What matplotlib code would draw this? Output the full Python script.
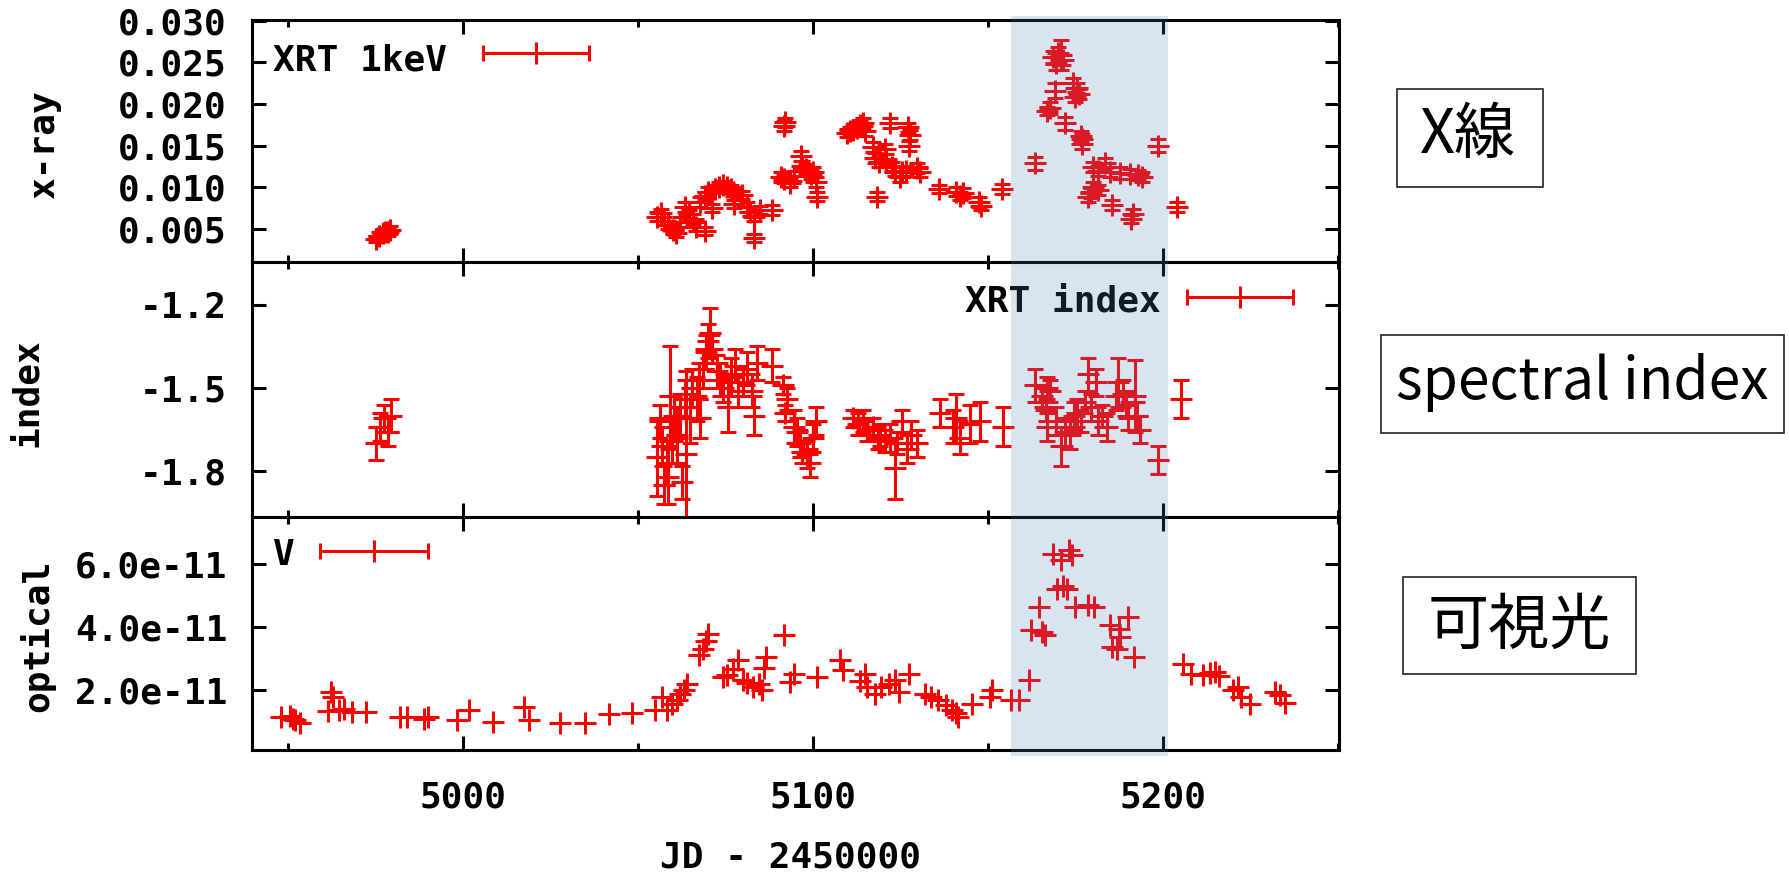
import matplotlib
matplotlib.use("Agg")
import matplotlib.pyplot as plt
from matplotlib.patches import Rectangle
import matplotlib.transforms as mtransforms
from matplotlib.ticker import FixedLocator, FuncFormatter

# ---------------- data ----------------
xray_day = [4975.0, 4976.0, 4977.0, 4977.8, 4978.5, 4979.0,
            5055.5, 5056.5, 5057.5, 5058.5, 5060.0, 5060.8, 5062.0, 5063.4, 5064.5, 5065.8,
            5066.5, 5069.1, 5067.7, 5069.0, 5070.1, 5071.0, 5072.0, 5073.2, 5074.4, 5075.5,
            5076.5, 5077.2, 5077.5, 5079.6, 5081.0, 5082.0, 5083.0, 5083.2, 5084.8, 5088.2,
            5091.8, 5092.0, 5090.8, 5091.8, 5093.4, 5094.5, 5096.5, 5097.0, 5098.0, 5099.5,
            5100.1, 5101.0, 5101.2, 5109.6, 5110.5, 5111.5, 5112.5, 5113.5, 5114.4, 5115.0,
            5117.2, 5117.8, 5118.2, 5119.0, 5120.6, 5121.0, 5122.0, 5122.5, 5123.5, 5124.8,
            5125.5, 5126.5, 5127.2, 5127.8, 5127.5, 5129.6, 5130.5, 5136.1, 5140.9, 5142.0,
            5143.0, 5147.5, 5148.0, 5154.1,
            5163.4, 5168.5, 5170.0, 5171.0, 5169.5, 5171.5, 5169.1, 5167.7, 5166.8, 5172.0,
            5174.4, 5175.5, 5176.0, 5175.0, 5176.8, 5177.0, 5176.5, 5198.7, 5180.1, 5181.5,
            5183.4, 5185.0, 5187.7, 5190.5, 5193.0, 5194.0, 5180.1, 5179.3, 5181.5, 5178.5,
            5185.3, 5191.5, 5191.0, 5204.1]
xray_flux = [0.0038, 0.0042, 0.0045, 0.0047, 0.0046, 0.0049,
             0.0065, 0.0069, 0.0060, 0.0055, 0.0049, 0.0045, 0.0058, 0.0077, 0.0068, 0.0062,
             0.0053, 0.0048, 0.0083, 0.0090, 0.0094, 0.0075, 0.0098, 0.0101, 0.0103, 0.0100,
             0.0098, 0.0095, 0.0080, 0.0091, 0.0076, 0.0071, 0.0065, 0.0039, 0.0073, 0.0073,
             0.0174, 0.0178, 0.0113, 0.0110, 0.0105, 0.0114, 0.0138, 0.0126, 0.0122, 0.0116,
             0.0119, 0.0107, 0.0089, 0.0165, 0.0168, 0.0169, 0.0171, 0.0175, 0.0177, 0.0168,
             0.0149, 0.0135, 0.0089, 0.0130, 0.0146, 0.0134, 0.0177, 0.0124, 0.0120, 0.0113,
             0.0118, 0.0120, 0.0172, 0.0163, 0.0150, 0.0123, 0.0118, 0.0098, 0.0095, 0.0090,
             0.0093, 0.0082, 0.0078, 0.0098,
             0.0129, 0.0256, 0.0261, 0.0259, 0.0249, 0.0253, 0.0216, 0.0195, 0.0192, 0.0177,
             0.0225, 0.0219, 0.0212, 0.0208, 0.0158, 0.0152, 0.0162, 0.0150, 0.0125, 0.0120,
             0.0129, 0.0119, 0.0117, 0.0116, 0.0115, 0.0112, 0.0101, 0.0093, 0.0097, 0.0089,
             0.0079, 0.0068, 0.0062, 0.0077]
xray_err = [0.0004, 0.0004, 0.0005, 0.0004, 0.0004, 0.0005,
            0.0005, 0.0005, 0.0005, 0.0005, 0.0005, 0.0005, 0.0006, 0.0006, 0.0005, 0.0006,
            0.0005, 0.0005, 0.0006, 0.0005, 0.0006, 0.0005, 0.0005, 0.0006, 0.0005, 0.0005,
            0.0005, 0.0005, 0.0005, 0.0005, 0.0006, 0.0005, 0.0005, 0.0005, 0.0005, 0.0006,
            0.0006, 0.0005, 0.0006, 0.0005, 0.0005, 0.0006, 0.0006, 0.0006, 0.0006, 0.0006,
            0.0005, 0.0006, 0.0005, 0.0005, 0.0005, 0.0006, 0.0006, 0.0006, 0.0006, 0.0006,
            0.0006, 0.0006, 0.0005, 0.0006, 0.0006, 0.0006, 0.0006, 0.0006, 0.0006, 0.0006,
            0.0006, 0.0006, 0.0005, 0.0006, 0.0006, 0.0006, 0.0006, 0.0005, 0.0005, 0.0005,
            0.0006, 0.0006, 0.0005, 0.0006,
            0.0008, 0.0008, 0.0008, 0.0018, 0.0008, 0.0006, 0.0009, 0.0007, 0.0005, 0.0008,
            0.0006, 0.0006, 0.0006, 0.0006, 0.0006, 0.0006, 0.0006, 0.0008, 0.0006, 0.0006,
            0.0006, 0.0006, 0.0007, 0.0006, 0.0006, 0.0006, 0.0006, 0.0006, 0.0006, 0.0006,
            0.0006, 0.0006, 0.0005, 0.0006]

index_day = [4975.0, 4976.2, 4977.5, 4978.5, 4979.5,
             5055.5, 5056.3, 5056.8, 5057.5, 5058.2, 5058.7, 5059.1, 5059.8, 5060.3, 5061.0,
             5062.0, 5062.5, 5063.4, 5063.7, 5064.8, 5065.5, 5066.8, 5067.7, 5067.5, 5068.7,
             5069.5, 5070.0, 5070.6, 5071.0, 5072.5, 5073.5, 5074.4, 5075.8, 5076.5, 5077.7,
             5078.5, 5080.0, 5081.0, 5082.5, 5083.0, 5083.9, 5088.2, 5091.5, 5092.5, 5092.0,
             5094.5, 5095.3, 5096.3, 5097.0, 5098.2, 5099.1, 5101.0, 5100.0,
             5111.5, 5113.0, 5114.4, 5115.3, 5117.2, 5118.5, 5119.1, 5120.5, 5122.0, 5123.4,
             5124.0, 5125.3, 5126.8, 5128.0, 5129.6, 5136.3, 5140.0, 5141.0, 5142.0, 5145.0,
             5147.7,
             5154.2, 5163.4, 5165.5, 5167.0, 5167.7, 5166.5, 5166.8, 5169.5, 5171.0, 5172.0,
             5173.4, 5174.5, 5175.3, 5176.5, 5177.7, 5178.7, 5179.5, 5181.0, 5181.5, 5182.5,
             5183.9, 5187.2, 5186.5, 5188.5, 5189.5, 5190.0, 5192.0, 5192.5, 5193.5, 5198.7,
             5205.1]
index_val = [-1.70, -1.64, -1.61, -1.66, -1.60,
             -1.75, -1.62, -1.71, -1.85, -1.77, -1.82, -1.53, -1.69, -1.60, -1.67,
             -1.60, -1.84, -1.54, -1.74, -1.61, -1.50, -1.54, -1.61, -1.47, -1.43,
             -1.37, -1.33, -1.30, -1.36, -1.44, -1.47, -1.50, -1.57, -1.46, -1.42,
             -1.51, -1.48, -1.43, -1.51, -1.60, -1.41, -1.42, -1.49, -1.54, -1.59,
             -1.64, -1.66, -1.70, -1.73, -1.74, -1.77, -1.62, -1.68,
             -1.61, -1.63, -1.62, -1.65, -1.64, -1.68, -1.67, -1.69, -1.68, -1.79,
             -1.70, -1.62, -1.72, -1.67, -1.70, -1.59, -1.64, -1.61, -1.68, -1.63,
             -1.62,
             -1.64, -1.49, -1.53, -1.50, -1.51, -1.58, -1.64, -1.62, -1.71, -1.66,
             -1.67, -1.60, -1.59, -1.62, -1.55, -1.45, -1.57, -1.48, -1.62, -1.60,
             -1.64, -1.48, -1.53, -1.52, -1.56, -1.60, -1.53, -1.60, -1.65, -1.76,
             -1.54]
index_err = [0.06, 0.05, 0.05, 0.05, 0.06,
             0.14, 0.06, 0.07, 0.07, 0.08, 0.10, 0.18, 0.08, 0.07, 0.10,
             0.08, 0.06, 0.07, 0.30, 0.09, 0.07, 0.08, 0.07, 0.06, 0.07,
             0.06, 0.06, 0.09, 0.05, 0.06, 0.06, 0.05, 0.09, 0.07, 0.06,
             0.06, 0.05, 0.06, 0.06, 0.07, 0.06, 0.06, 0.03, 0.04, 0.03,
             0.06, 0.05, 0.05, 0.04, 0.05, 0.05, 0.05, 0.05,
             0.03, 0.04, 0.04, 0.04, 0.03, 0.04, 0.04, 0.04, 0.05, 0.11,
             0.04, 0.04, 0.05, 0.05, 0.05, 0.05, 0.06, 0.09, 0.06, 0.07,
             0.07,
             0.07, 0.06, 0.04, 0.04, 0.04, 0.04, 0.05, 0.05, 0.07, 0.05,
             0.05, 0.05, 0.05, 0.04, 0.04, 0.06, 0.05, 0.05, 0.05, 0.04,
             0.05, 0.09, 0.05, 0.05, 0.05, 0.05, 0.13, 0.05, 0.05, 0.05,
             0.07]

optical_day = [4948.1, 4950.5, 4951.5, 4952.0, 4953.3, 4962.2, 4962.8, 4961.5, 4964.6, 4966.0,
               4968.4, 4972.3, 4981.9, 4984.0, 4988.9, 4990.0, 4998.3, 5001.6, 5008.6, 5017.5,
               5018.8, 5027.7, 5034.8, 5041.8, 5048.2, 5054.9, 5056.8, 5058.2, 5059.6, 5061.0,
               5062.0, 5063.0, 5064.0, 5067.5, 5068.5, 5069.5, 5070.0, 5074.3, 5075.5, 5077.1,
               5078.6, 5079.9, 5081.0, 5082.8, 5084.5, 5085.5, 5086.7, 5086.0, 5091.8, 5093.5,
               5094.6, 5101.2, 5107.8, 5108.5, 5113.5, 5114.9, 5115.5, 5117.8, 5119.5, 5121.7,
               5123.4, 5124.5, 5127.4, 5131.9, 5133.6, 5135.8, 5138.0, 5139.8, 5141.5, 5141.0,
               5145.4, 5151.1, 5150.5, 5156.7, 5159.0, 5161.8, 5162.4, 5164.6, 5166.3, 5165.5,
               5168.6, 5173.1, 5171.0, 5174.0, 5169.7, 5171.4, 5172.5, 5174.8, 5178.7, 5180.4,
               5185.0, 5187.5, 5190.0, 5187.8, 5185.5, 5187.0, 5191.7, 5205.8, 5208.1, 5211.5,
               5213.5, 5214.9, 5216.0, 5220.0, 5221.5, 5222.2, 5225.0, 5232.0, 5233.5, 5235.0]
optical_flux = [1.17e-11, 1.20e-11, 1.10e-11, 1.06e-11, 0.96e-11, 1.95e-11, 1.80e-11, 1.35e-11, 1.38e-11, 1.40e-11,
                1.33e-11, 1.33e-11, 1.17e-11, 1.17e-11, 1.11e-11, 1.15e-11, 1.06e-11, 1.38e-11, 1.01e-11, 1.49e-11,
                1.06e-11, 0.96e-11, 0.96e-11, 1.25e-11, 1.27e-11, 1.37e-11, 1.79e-11, 1.37e-11, 1.58e-11, 1.70e-11,
                1.90e-11, 2.00e-11, 2.21e-11, 3.11e-11, 3.30e-11, 3.58e-11, 3.79e-11, 2.42e-11, 2.50e-11, 2.69e-11,
                2.95e-11, 2.32e-11, 2.25e-11, 2.11e-11, 2.21e-11, 2.00e-11, 3.06e-11, 2.70e-11, 3.77e-11, 2.27e-11,
                2.53e-11, 2.42e-11, 2.95e-11, 2.65e-11, 2.30e-11, 2.53e-11, 2.11e-11, 1.90e-11, 2.10e-11, 2.21e-11,
                2.32e-11, 1.95e-11, 2.53e-11, 1.90e-11, 1.79e-11, 1.69e-11, 1.55e-11, 1.37e-11, 1.16e-11, 1.30e-11,
                1.58e-11, 2.00e-11, 1.80e-11, 1.69e-11, 1.69e-11, 2.32e-11, 3.90e-11, 4.64e-11, 3.74e-11, 3.85e-11,
                6.33e-11, 6.43e-11, 6.12e-11, 6.30e-11, 5.22e-11, 5.32e-11, 5.20e-11, 4.64e-11, 4.69e-11, 4.64e-11,
                4.06e-11, 3.95e-11, 4.32e-11, 3.69e-11, 3.37e-11, 3.30e-11, 3.06e-11, 2.85e-11, 2.53e-11, 2.48e-11,
                2.55e-11, 2.58e-11, 2.45e-11, 2.00e-11, 2.10e-11, 1.79e-11, 1.58e-11, 1.95e-11, 1.85e-11, 1.60e-11]

xray_ticks = [0.005, 0.010, 0.015, 0.020, 0.025, 0.030]
index_ticks = [-1.8, -1.5, -1.2]
optical_ticks = [2.0e-11, 4.0e-11, 6.0e-11]
optical_ticklabels = ["2.0e-11", "4.0e-11", "6.0e-11"]
x_major = [5000, 5100, 5200]
x_minor = [4950, 5050, 5150, 5250]

SHADE_START, SHADE_END = 5156.5, 5201.5

# ---------------- style ----------------
W, H = 1789, 872
plt.rcParams["axes.unicode_minus"] = False
MONO = "DejaVu Sans Mono"
FS = 26
RED = "#ff0000"
LW = 2.2

fig = plt.figure(figsize=(W / 100, H / 100), dpi=100)

def px_rect(x0, y0, x1, y1):
    return [x0 / W, 1 - y1 / H, (x1 - x0) / W, (y1 - y0) / H]

ax1 = fig.add_axes(px_rect(252, 20, 1339, 262))
ax2 = fig.add_axes(px_rect(252, 262, 1339, 517))
ax3 = fig.add_axes(px_rect(252, 517, 1339, 750))

XLIM = (4939.7, 5250.3)
eb_kw = dict(fmt="+", color=RED, ms=16.5, mew=LW, elinewidth=LW, capsize=6,
             capthick=LW, ls="none")

ax1.errorbar(xray_day, xray_flux, yerr=xray_err, **eb_kw)
ax2.errorbar(index_day, index_val, yerr=index_err, **eb_kw)
ax3.plot(optical_day, optical_flux, "+", color=RED, ms=16.5, mew=LW, ls="none")

ax1.set_ylim(0.00104, 0.0301)
ax2.set_ylim(-1.966, -1.045)
ax3.set_ylim(0.114e-11, 7.49e-11)

for ax in (ax1, ax2, ax3):
    ax.set_xlim(*XLIM)
    for s in ax.spines.values():
        s.set_linewidth(LW)
    ax.xaxis.set_major_locator(FixedLocator(x_major))
    ax.xaxis.set_minor_locator(FixedLocator(x_minor))
    ax.tick_params(axis="both", which="major", direction="in", length=10, width=LW,
                   top=True, right=True, labelsize=FS, pad=18)
    ax.tick_params(axis="x", which="minor", direction="in", length=5, width=LW,
                   top=True, bottom=True)

ax1.set_yticks(xray_ticks)
ax1.yaxis.set_major_formatter(FuncFormatter(lambda v, p: f"{v:.3f}"))
ax2.set_yticks(index_ticks)
ax2.yaxis.set_major_formatter(FuncFormatter(lambda v, p: f"{v:.1f}"))
ax3.set_yticks(optical_ticks)
ax3.set_yticklabels(optical_ticklabels)
ax1.tick_params(labelbottom=False)
ax2.tick_params(labelbottom=False)
ax3.tick_params(axis="x", pad=22)

for ax in (ax1, ax2, ax3):
    for lab in ax.get_xticklabels() + ax.get_yticklabels():
        lab.set_fontfamily(MONO)
        lab.set_fontweight("bold")

# axis labels
tkw = dict(fontfamily=MONO, fontweight="bold", fontsize=FS, rotation=90,
           ha="center", va="center")
fig.text(44 / W, 1 - 145 / H, "x-ray", **tkw)
fig.text(27 / W, 1 - 393 / H, "index", **tkw)
fig.text(37 / W, 1 - 636 / H, "optical", **tkw)
fig.text(791 / W, 1 - 857 / H, "JD - 2450000", fontfamily=MONO, fontweight="bold",
         fontsize=FS, ha="center", va="center")

# key entries
def key(ax, text, tx, ty, ha, cx, cy, hw):
    ax.text(tx, ty, text, transform=ax.transAxes, fontfamily=MONO, fontweight="bold",
            fontsize=FS, ha=ha, va="baseline")
    ax.plot([cx - hw, cx + hw], [cy, cy], color=RED, lw=LW, transform=ax.transAxes,
            clip_on=False, solid_capstyle="butt")
    ax.plot([cx - hw, cx + hw], [cy, cy], ls="none", marker="|", ms=12, mew=LW,
            color=RED, transform=ax.transAxes, clip_on=False)
    ax.plot([cx], [cy], ls="none", marker="|", ms=16.5, mew=LW, color=RED,
            transform=ax.transAxes, clip_on=False)

key(ax1, "XRT 1keV", 0.0193, 0.793, "left", 0.2613, 0.864, 0.0488)
key(ax2, "XRT index", 0.8362, 0.804, "right", 0.909, 0.8627, 0.0488)
key(ax3, "V", 0.0193, 0.794, "left", 0.1122, 0.854, 0.0497)

# shaded interval (on top of everything)
blend = mtransforms.blended_transform_factory(ax3.transData, fig.transFigure)
shade = Rectangle((SHADE_START, 1 - 756 / H), SHADE_END - SHADE_START, (756 - 16) / H,
                  transform=blend, facecolor="#4F81BD", alpha=0.21, edgecolor="none",
                  zorder=10)
fig.add_artist(shade)

# boxed annotations on the right
CJK = ["Noto Sans CJK JP", "DejaVu Sans"]
boxes = [("X線", 1397, 89, 1543, 187, 1468, 136, 44),
         ("spectral index", 1381, 335, 1784, 433, 1582, 382, 41),
         ("可視光", 1403, 577, 1636, 674, 1519, 627, 44)]
for txt, x0, y0, x1, y1, cx, cy, fs in boxes:
    fig.add_artist(Rectangle((x0 / W, 1 - y1 / H), (x1 - x0) / W, (y1 - y0) / H,
                             transform=fig.transFigure, fill=False, edgecolor="#222222",
                             linewidth=1.2))
    fig.text(cx / W, 1 - cy / H, txt, family=CJK, fontsize=fs, ha="center",
             va="center")

fig.savefig("out.png", dpi=100)
